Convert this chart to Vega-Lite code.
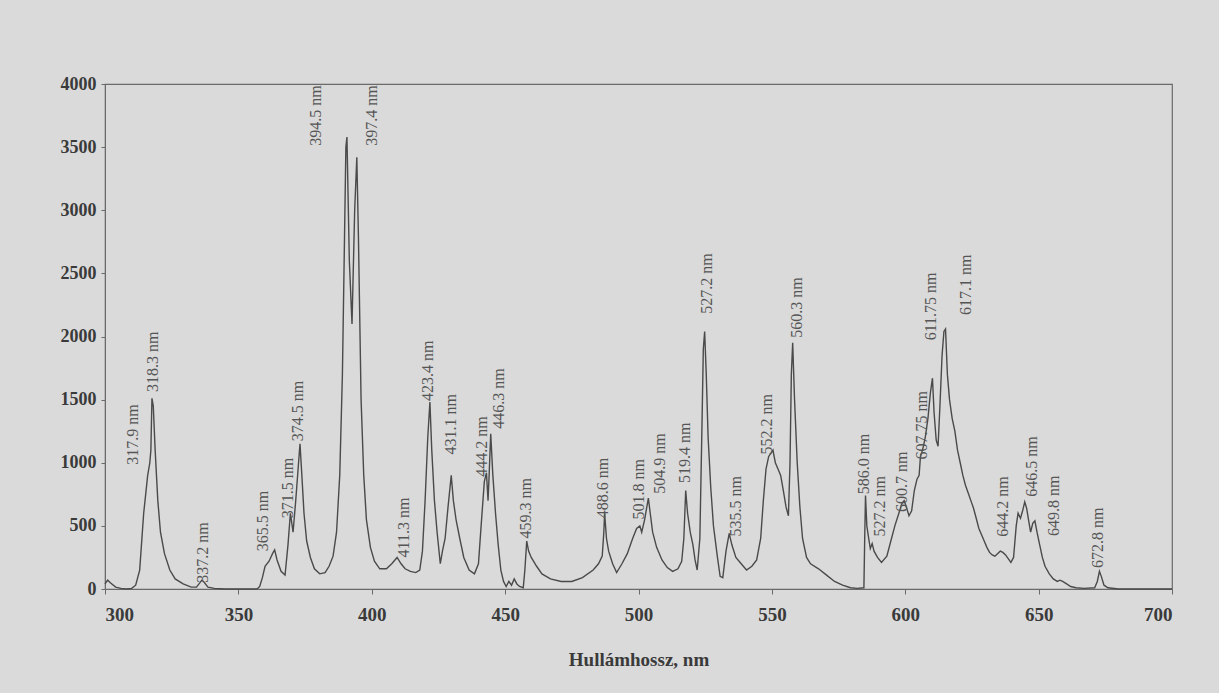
{
  "$schema": "https://vega.github.io/schema/vega-lite/v6.json",
  "width": 1067,
  "height": 505,
  "autosize": "none",
  "padding": {"left": 105, "top": 84, "right": 47, "bottom": 104},
  "background": "#dadada",
  "config": {"view": {"stroke": "#6a6a6a", "strokeWidth": 1.2}, "font": "Liberation Serif"},
  "datasets": {
    "spectrum": [
      {"nm": 300, "v": 40}, {"nm": 301, "v": 70}, {"nm": 302, "v": 50}, {"nm": 304, "v": 15}, {"nm": 306, "v": 5}, {"nm": 308, "v": 0}, {"nm": 310, "v": 5}, {"nm": 311.5, "v": 30}, {"nm": 313, "v": 150}, {"nm": 314.5, "v": 600}, {"nm": 316, "v": 900}, {"nm": 316.8, "v": 1000}, {"nm": 317.2, "v": 1100}, {"nm": 317.6, "v": 1510}, {"nm": 318.1, "v": 1450}, {"nm": 318.8, "v": 1100}, {"nm": 319.8, "v": 700}, {"nm": 320.8, "v": 450}, {"nm": 322.3, "v": 280}, {"nm": 324.3, "v": 150}, {"nm": 326.3, "v": 80}, {"nm": 329.3, "v": 40}, {"nm": 332.3, "v": 15}, {"nm": 334.3, "v": 15}, {"nm": 335.6, "v": 50}, {"nm": 336.3, "v": 70}, {"nm": 337.1, "v": 55}, {"nm": 338.6, "v": 15}, {"nm": 341, "v": 5}, {"nm": 345, "v": 0}, {"nm": 357, "v": 0}, {"nm": 358, "v": 20}, {"nm": 359, "v": 90}, {"nm": 360, "v": 180}, {"nm": 361.5, "v": 220}, {"nm": 362.8, "v": 280}, {"nm": 363.6, "v": 310}, {"nm": 364.5, "v": 230}, {"nm": 366, "v": 140}, {"nm": 367.5, "v": 110}, {"nm": 368.6, "v": 350}, {"nm": 369.5, "v": 600}, {"nm": 370.5, "v": 450}, {"nm": 371.5, "v": 700}, {"nm": 373.1, "v": 1150}, {"nm": 373.8, "v": 900}, {"nm": 374.6, "v": 600}, {"nm": 375.6, "v": 380}, {"nm": 377, "v": 250}, {"nm": 378.5, "v": 160}, {"nm": 380.5, "v": 120}, {"nm": 382.5, "v": 130}, {"nm": 384, "v": 180}, {"nm": 385.5, "v": 260}, {"nm": 386.8, "v": 450}, {"nm": 388, "v": 900}, {"nm": 389, "v": 1700}, {"nm": 389.8, "v": 2800}, {"nm": 390.3, "v": 3500}, {"nm": 390.7, "v": 3580}, {"nm": 391.6, "v": 2600}, {"nm": 392.6, "v": 2100}, {"nm": 393.6, "v": 3000}, {"nm": 394.4, "v": 3420}, {"nm": 395, "v": 2800}, {"nm": 396, "v": 1500}, {"nm": 397, "v": 900}, {"nm": 398, "v": 550}, {"nm": 399.5, "v": 330}, {"nm": 401, "v": 220}, {"nm": 403, "v": 160}, {"nm": 405.5, "v": 160}, {"nm": 407.5, "v": 200}, {"nm": 409.5, "v": 250}, {"nm": 411, "v": 200}, {"nm": 412.5, "v": 160}, {"nm": 414.5, "v": 140}, {"nm": 416.5, "v": 130}, {"nm": 418, "v": 150}, {"nm": 419, "v": 300}, {"nm": 420, "v": 700}, {"nm": 421, "v": 1200}, {"nm": 421.8, "v": 1480}, {"nm": 422.5, "v": 1100}, {"nm": 423.5, "v": 700}, {"nm": 424.5, "v": 450}, {"nm": 425.7, "v": 200}, {"nm": 426.5, "v": 300}, {"nm": 427.5, "v": 400}, {"nm": 428.6, "v": 650}, {"nm": 429.8, "v": 900}, {"nm": 430.6, "v": 700}, {"nm": 431.6, "v": 550}, {"nm": 433, "v": 400}, {"nm": 434.5, "v": 250}, {"nm": 436.5, "v": 150}, {"nm": 438.5, "v": 120}, {"nm": 440, "v": 200}, {"nm": 441, "v": 500}, {"nm": 442.2, "v": 850}, {"nm": 443, "v": 920}, {"nm": 443.6, "v": 700}, {"nm": 444, "v": 900}, {"nm": 444.6, "v": 1230}, {"nm": 445.4, "v": 900}, {"nm": 446.4, "v": 600}, {"nm": 447.4, "v": 350}, {"nm": 448.4, "v": 150}, {"nm": 449.4, "v": 60}, {"nm": 450.4, "v": 20}, {"nm": 451.4, "v": 60}, {"nm": 452.4, "v": 30}, {"nm": 453.4, "v": 80}, {"nm": 454.4, "v": 40}, {"nm": 455.4, "v": 20}, {"nm": 456.8, "v": 10}, {"nm": 457.4, "v": 150}, {"nm": 458.1, "v": 380}, {"nm": 458.8, "v": 300}, {"nm": 459.8, "v": 250}, {"nm": 461.8, "v": 180}, {"nm": 463.8, "v": 120}, {"nm": 467, "v": 80}, {"nm": 471, "v": 60}, {"nm": 475, "v": 60}, {"nm": 479, "v": 90}, {"nm": 483, "v": 150}, {"nm": 485, "v": 200}, {"nm": 486.4, "v": 260}, {"nm": 487, "v": 450}, {"nm": 487.3, "v": 600}, {"nm": 488, "v": 400}, {"nm": 488.8, "v": 300}, {"nm": 490.3, "v": 200}, {"nm": 491.8, "v": 130}, {"nm": 493.8, "v": 200}, {"nm": 495.8, "v": 280}, {"nm": 497.8, "v": 400}, {"nm": 499.3, "v": 480}, {"nm": 500.5, "v": 500}, {"nm": 501.2, "v": 450}, {"nm": 502.3, "v": 550}, {"nm": 503.7, "v": 720}, {"nm": 504.4, "v": 600}, {"nm": 505.3, "v": 450}, {"nm": 506.8, "v": 330}, {"nm": 508.8, "v": 230}, {"nm": 510.8, "v": 170}, {"nm": 512.8, "v": 140}, {"nm": 514.8, "v": 160}, {"nm": 516.2, "v": 220}, {"nm": 517, "v": 400}, {"nm": 517.7, "v": 780}, {"nm": 518.4, "v": 600}, {"nm": 519.4, "v": 450}, {"nm": 520.4, "v": 350}, {"nm": 521.2, "v": 230}, {"nm": 522, "v": 150}, {"nm": 523, "v": 400}, {"nm": 523.8, "v": 1300}, {"nm": 524.3, "v": 1900}, {"nm": 524.8, "v": 2040}, {"nm": 525.4, "v": 1700}, {"nm": 526.1, "v": 1200}, {"nm": 527.1, "v": 800}, {"nm": 528.1, "v": 500}, {"nm": 529.6, "v": 250}, {"nm": 530.6, "v": 100}, {"nm": 531.6, "v": 90}, {"nm": 532.8, "v": 300}, {"nm": 534, "v": 440}, {"nm": 535, "v": 350}, {"nm": 536.5, "v": 250}, {"nm": 538.5, "v": 200}, {"nm": 540.5, "v": 150}, {"nm": 542.5, "v": 180}, {"nm": 544.3, "v": 230}, {"nm": 545.8, "v": 400}, {"nm": 546.8, "v": 700}, {"nm": 547.8, "v": 950}, {"nm": 548.8, "v": 1050}, {"nm": 549.8, "v": 1080}, {"nm": 550.4, "v": 1100}, {"nm": 551.3, "v": 1000}, {"nm": 552.3, "v": 950}, {"nm": 553.3, "v": 900}, {"nm": 554.3, "v": 780}, {"nm": 555.3, "v": 650}, {"nm": 556.2, "v": 580}, {"nm": 556.8, "v": 1000}, {"nm": 557.3, "v": 1700}, {"nm": 557.8, "v": 1950}, {"nm": 558.5, "v": 1500}, {"nm": 559.5, "v": 1000}, {"nm": 560.5, "v": 650}, {"nm": 561.5, "v": 400}, {"nm": 563, "v": 250}, {"nm": 564.5, "v": 200}, {"nm": 567.5, "v": 160}, {"nm": 570.5, "v": 110}, {"nm": 573.5, "v": 60}, {"nm": 576.5, "v": 30}, {"nm": 579.5, "v": 10}, {"nm": 582, "v": 5}, {"nm": 584.5, "v": 10}, {"nm": 584.8, "v": 400}, {"nm": 585.1, "v": 740}, {"nm": 585.6, "v": 500}, {"nm": 586.3, "v": 400}, {"nm": 586.9, "v": 320}, {"nm": 587.6, "v": 360}, {"nm": 588.3, "v": 300}, {"nm": 589.6, "v": 250}, {"nm": 591.1, "v": 210}, {"nm": 593.1, "v": 260}, {"nm": 594.6, "v": 380}, {"nm": 596.1, "v": 500}, {"nm": 597.6, "v": 600}, {"nm": 598.8, "v": 680}, {"nm": 599.6, "v": 700}, {"nm": 600.4, "v": 650}, {"nm": 601.4, "v": 580}, {"nm": 602.4, "v": 620}, {"nm": 603.4, "v": 780}, {"nm": 604.4, "v": 870}, {"nm": 605.2, "v": 900}, {"nm": 605.7, "v": 1050}, {"nm": 606.2, "v": 1080}, {"nm": 606.8, "v": 1130}, {"nm": 607.5, "v": 1200}, {"nm": 608.5, "v": 1350}, {"nm": 609.4, "v": 1550}, {"nm": 610.2, "v": 1670}, {"nm": 610.8, "v": 1400}, {"nm": 611.6, "v": 1180}, {"nm": 612.3, "v": 1130}, {"nm": 613, "v": 1450}, {"nm": 613.8, "v": 1850}, {"nm": 614.5, "v": 2040}, {"nm": 615.1, "v": 2060}, {"nm": 615.8, "v": 1700}, {"nm": 616.6, "v": 1500}, {"nm": 617.6, "v": 1350}, {"nm": 618.6, "v": 1250}, {"nm": 619.6, "v": 1100}, {"nm": 620.6, "v": 1000}, {"nm": 621.6, "v": 900}, {"nm": 622.6, "v": 820}, {"nm": 623.6, "v": 760}, {"nm": 624.6, "v": 700}, {"nm": 625.6, "v": 640}, {"nm": 626.6, "v": 560}, {"nm": 627.6, "v": 480}, {"nm": 628.6, "v": 430}, {"nm": 629.6, "v": 380}, {"nm": 630.6, "v": 330}, {"nm": 631.6, "v": 290}, {"nm": 632.6, "v": 270}, {"nm": 633.6, "v": 260}, {"nm": 634.6, "v": 280}, {"nm": 635.6, "v": 300}, {"nm": 636.6, "v": 290}, {"nm": 637.6, "v": 270}, {"nm": 638.6, "v": 240}, {"nm": 639.6, "v": 210}, {"nm": 640.6, "v": 250}, {"nm": 641.6, "v": 500}, {"nm": 642.3, "v": 600}, {"nm": 643.2, "v": 560}, {"nm": 644, "v": 620}, {"nm": 644.8, "v": 690}, {"nm": 645.5, "v": 640}, {"nm": 646.2, "v": 550}, {"nm": 647, "v": 450}, {"nm": 647.8, "v": 520}, {"nm": 648.6, "v": 540}, {"nm": 649.4, "v": 450}, {"nm": 650.4, "v": 350}, {"nm": 651.4, "v": 250}, {"nm": 652.4, "v": 180}, {"nm": 654, "v": 120}, {"nm": 655.5, "v": 80}, {"nm": 657, "v": 60}, {"nm": 658, "v": 70}, {"nm": 659, "v": 60}, {"nm": 660.5, "v": 40}, {"nm": 662, "v": 20}, {"nm": 664, "v": 10}, {"nm": 667, "v": 5}, {"nm": 671, "v": 10}, {"nm": 672, "v": 60}, {"nm": 672.8, "v": 140}, {"nm": 673.5, "v": 100}, {"nm": 674.5, "v": 30}, {"nm": 676, "v": 10}, {"nm": 680, "v": 0}, {"nm": 700, "v": 0}
    ],
    "labels": [
      {"label": "317.9 nm", "nm": 310.5, "v": 985},
      {"label": "318.3 nm", "nm": 318.0, "v": 1560},
      {"label": "337.2 nm", "nm": 336.7, "v": 50},
      {"label": "365.5 nm", "nm": 359.2, "v": 300},
      {"label": "371.5 nm", "nm": 368.6, "v": 560},
      {"label": "374.5 nm", "nm": 372.3, "v": 1170},
      {"label": "394.5 nm", "nm": 379.1, "v": 3510},
      {"label": "397.4 nm", "nm": 400.0, "v": 3510},
      {"label": "411.3 nm", "nm": 412.0, "v": 250},
      {"label": "423.4 nm", "nm": 421.0, "v": 1490},
      {"label": "431.1 nm", "nm": 429.6, "v": 1065},
      {"label": "444.2 nm", "nm": 441.3, "v": 890},
      {"label": "446.3 nm", "nm": 447.6, "v": 1270},
      {"label": "459.3 nm", "nm": 457.8, "v": 400},
      {"label": "488.6 nm", "nm": 486.6, "v": 560},
      {"label": "501.8 nm", "nm": 500.1, "v": 550},
      {"label": "504.9 nm", "nm": 507.9, "v": 755},
      {"label": "519.4 nm", "nm": 517.3, "v": 840},
      {"label": "527.2 nm", "nm": 525.6, "v": 2180},
      {"label": "535.5 nm", "nm": 536.4, "v": 415},
      {"label": "552.2 nm", "nm": 548.0, "v": 1065},
      {"label": "560.3 nm", "nm": 559.3, "v": 1990},
      {"label": "586.0 nm", "nm": 584.4, "v": 750},
      {"label": "527.2 nm", "nm": 590.7, "v": 415},
      {"label": "600.7 nm", "nm": 598.6, "v": 610},
      {"label": "607.75 nm", "nm": 606.1, "v": 1025},
      {"label": "611.75 nm", "nm": 609.5, "v": 1970},
      {"label": "617.1 nm", "nm": 622.6, "v": 2170},
      {"label": "644.2 nm", "nm": 636.8, "v": 413},
      {"label": "646.5 nm", "nm": 647.7, "v": 730},
      {"label": "649.8 nm", "nm": 655.6, "v": 420},
      {"label": "672.8 nm", "nm": 672.4, "v": 167}
    ]
  },
  "encoding": {
    "x": {
      "field": "nm", "type": "quantitative",
      "scale": {"domain": [300, 700], "nice": false},
      "axis": {
        "title": "Hullámhossz, nm", "titleFont": "Liberation Serif", "titleFontWeight": "bold", "titleFontSize": 19, "titleColor": "#3a3a3a", "titlePadding": 26,
        "values": [300, 350, 400, 450, 500, 550, 600, 650, 700], "format": "d",
        "labelFont": "Liberation Serif", "labelFontWeight": "bold", "labelFontSize": 19, "labelColor": "#3a3a3a", "labelPadding": 11,
        "tickSize": 5, "tickColor": "#6a6a6a", "domainColor": "#6a6a6a", "grid": false
      }
    },
    "y": {
      "field": "v", "type": "quantitative",
      "scale": {"domain": [0, 4000], "nice": false},
      "axis": {
        "title": null,
        "values": [0, 500, 1000, 1500, 2000, 2500, 3000, 3500, 4000], "format": "d",
        "labelFont": "Liberation Serif", "labelFontWeight": "bold", "labelFontSize": 18, "labelColor": "#3a3a3a", "labelPadding": 5,
        "tickSize": 4, "tickColor": "#6a6a6a", "domainColor": "#6a6a6a", "grid": false
      }
    }
  },
  "layer": [
    {
      "data": {"name": "spectrum"},
      "mark": {"type": "line", "color": "#4a4a4a", "strokeWidth": 1.4}
    },
    {
      "data": {"name": "labels"},
      "mark": {"type": "text", "angle": 270, "align": "left", "baseline": "middle", "font": "Liberation Serif", "fontSize": 16, "color": "#555555"},
      "encoding": {"text": {"field": "label", "type": "nominal"}}
    }
  ]
}
